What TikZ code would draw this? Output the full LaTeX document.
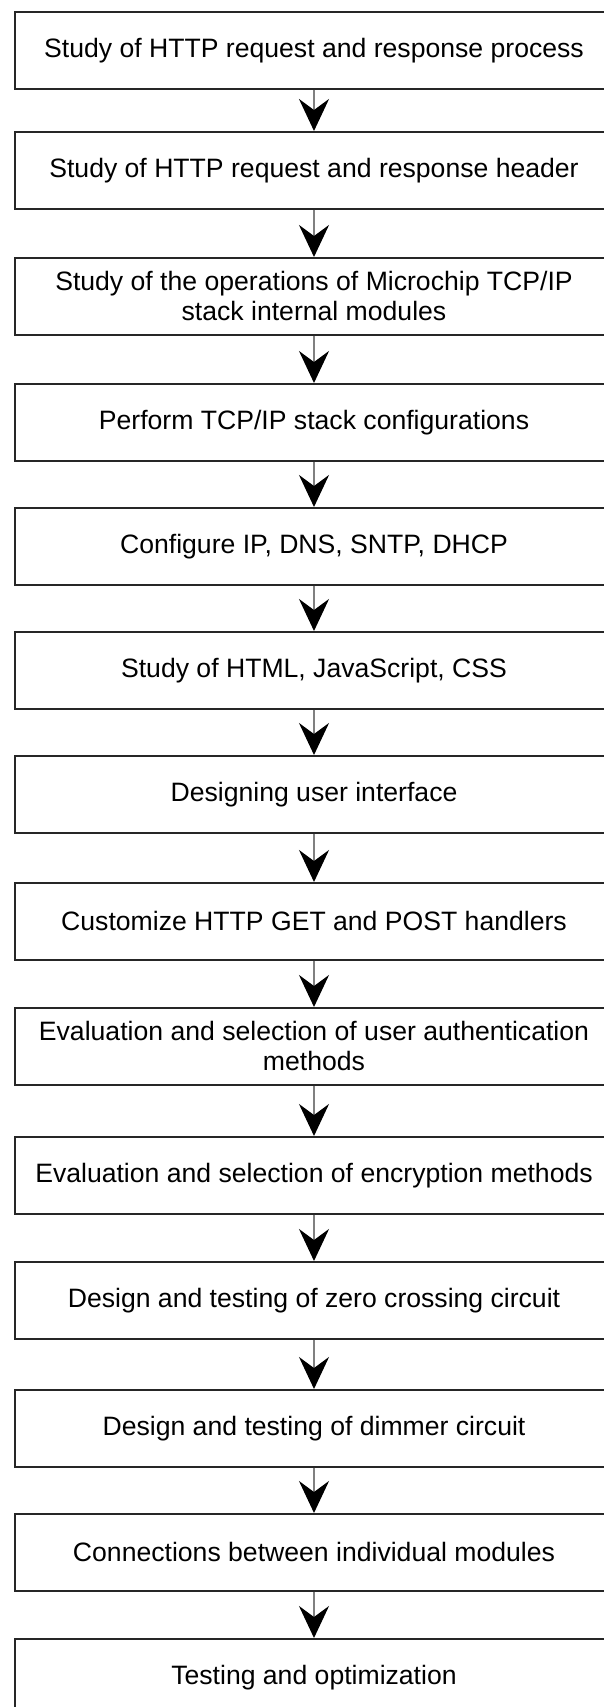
\documentclass[tikz,border=0pt]{standalone}
\usepackage{fontspec}
\setmainfont{Liberation Sans}
\usetikzlibrary{%
  arrows.meta,%
  positioning% wg. " of "
}

\begin{document}
\begin{tikzpicture}
[x=1pt, y=-1pt, font=\fontsize{26.6}{30}\selectfont,
stepbox/.style={rectangle, draw=black!85, line width=1.6pt, fill=white, inner sep=0pt, align=center, anchor=north, minimum width=598pt, minimum height=77pt},
flow/.style={draw=black!50, line width=2pt, -{Stealth[length=32pt, width=30pt, inset=11pt, color=black]}}]

\useasboundingbox (0,0) rectangle (603,1707);

\node[stepbox] (s1)  at (314,11)   {Study of HTTP request and response process};
\node[stepbox] (s2)  at (314,131)  {Study of HTTP request and response header};
\node[stepbox] (s3)  at (314,257)  {Study of the operations of Microchip TCP/IP\\stack internal modules};
\node[stepbox] (s4)  at (314,383)  {Perform TCP/IP stack configurations};
\node[stepbox] (s5)  at (314,507)  {Configure IP, DNS, SNTP, DHCP};
\node[stepbox] (s6)  at (314,631)  {Study of HTML, JavaScript, CSS};
\node[stepbox] (s7)  at (314,755)  {Designing user interface};
\node[stepbox] (s8)  at (314,882)  {Customize HTTP GET and POST handlers};
\node[stepbox] (s9)  at (314,1007) {Evaluation and selection of user authentication\\methods};
\node[stepbox] (s10) at (314,1136) {Evaluation and selection of encryption methods};
\node[stepbox] (s11) at (314,1261) {Design and testing of zero crossing circuit};
\node[stepbox] (s12) at (314,1389) {Design and testing of dimmer circuit};
\node[stepbox] (s13) at (314,1513) {Connections between individual modules};
\node[stepbox] (s14) at (314,1638) {Testing and optimization};

\foreach \i in {1,...,13} {
  \pgfmathtruncatemacro{\j}{\i+1}
  \draw[flow] (s\i) -- (s\j);
}
\end{tikzpicture}
\end{document}
